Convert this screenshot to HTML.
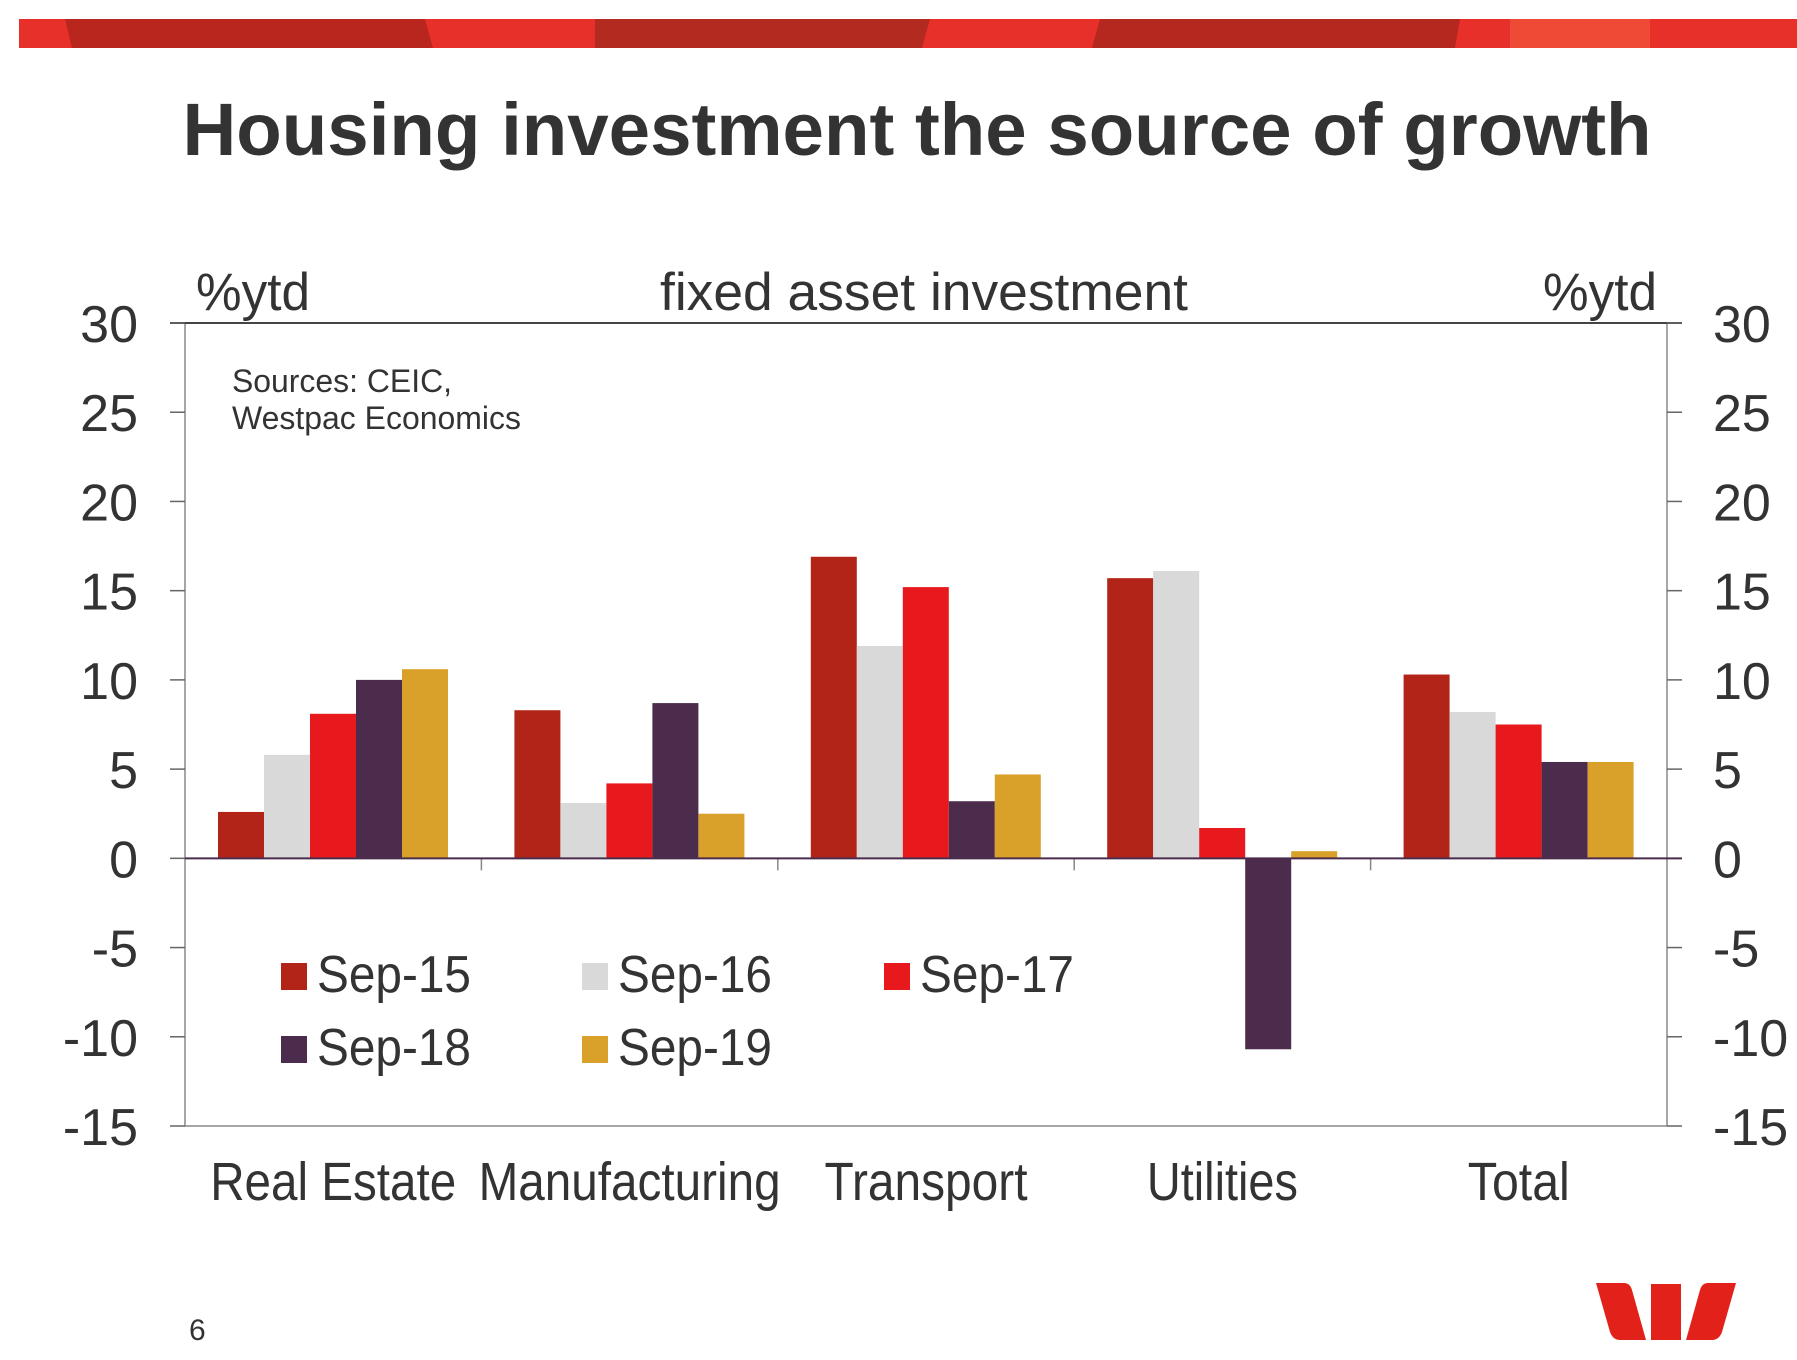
<!DOCTYPE html>
<html><head><meta charset="utf-8"><style>
html,body{margin:0;padding:0;background:#fff;}
svg{display:block;font-family:"Liberation Sans",Arial,sans-serif;}
</style></head><body>
<svg id="chart" width="1797" height="1360" viewBox="0 0 1797 1360" xmlns="http://www.w3.org/2000/svg">
<g>
<rect x="19" y="19" width="1778" height="29" fill="#e8302a"/>
<polygon points="65,19 425,19 433,48 72,48" fill="#b8261e"/>
<polygon points="595,19 930,19 922,48 595,48" fill="#b22a20"/>
<polygon points="1100,19 1460,19 1455,48 1092,48" fill="#b5281f"/>
<rect x="1510" y="19" width="140" height="29" fill="#ee4a36"/>
</g>
<text x="917" y="155" text-anchor="middle" font-size="74" font-weight="bold" fill="#333" textLength="1469" lengthAdjust="spacingAndGlyphs">Housing investment the source of growth</text>
<text x="196" y="310" font-size="53" fill="#333" textLength="114" lengthAdjust="spacingAndGlyphs">%ytd</text>
<text x="924" y="310" text-anchor="middle" font-size="53" fill="#333" textLength="528" lengthAdjust="spacingAndGlyphs">fixed asset investment</text>
<text x="1657" y="310" text-anchor="end" font-size="53" fill="#333" textLength="114" lengthAdjust="spacingAndGlyphs">%ytd</text>
<text x="232" y="392" font-size="32" fill="#333" textLength="220" lengthAdjust="spacingAndGlyphs">Sources: CEIC,</text>
<text x="232" y="429" font-size="32" fill="#333" textLength="289" lengthAdjust="spacingAndGlyphs">Westpac Economics</text>
<g id="plot"></g>
<g id="legend"></g>
<text x="189" y="1340" font-size="30" fill="#333">6</text>
<g fill="#e3211b">
<path d="M1596,1283 L1624,1283 Q1630,1283 1632,1290 L1646,1340 L1620,1340 Q1613,1340 1610,1332 Z"/>
<rect x="1651" y="1284" width="30" height="56"/>
<path d="M1736,1283 L1708,1283 Q1702,1283 1700,1290 L1686,1340 L1712,1340 Q1719,1340 1722,1332 Z"/>
</g>
</svg>
<script>
const categories = ["Real Estate","Manufacturing","Transport","Utilities","Total"];
const seriesNames = ["Sep-15","Sep-16","Sep-17","Sep-18","Sep-19"];
const sep15 = [2.6, 8.3, 16.9, 15.7, 10.3];
const sep16 = [5.8, 3.1, 11.9, 16.1, 8.2];
const sep17 = [8.1, 4.2, 15.2, 1.7, 7.5];
const sep18 = [10.0, 8.7, 3.2, -10.7, 5.4];
const sep19 = [10.6, 2.5, 4.7, 0.4, 5.4];
const yTicks = [30, 25, 20, 15, 10, 5, 0, -5, -10, -15];
const series = [sep15, sep16, sep17, sep18, sep19];
const colors = ["#b22417","#d9d9d9","#e8191c","#4b2c4d","#d9a12a"];
const NS = "http://www.w3.org/2000/svg";
const L = 185, R = 1667, T = 323, B = 1126, yMin = -15, yMax = 30;
const y = v => T + (yMax - v) / (yMax - yMin) * (B - T);
const catW = (R - L) / categories.length;
const x = i => L + i * catW;
const plot = document.getElementById('plot');
function mk(tag, attrs, parent) { const e = document.createElementNS(NS, tag); for (const k in attrs) e.setAttribute(k, attrs[k]); parent.appendChild(e); return e; }
// frame
const fr = mk('rect', {x:L, y:T, width:R-L, height:B-T, fill:'none', stroke:'#888', 'stroke-width':1.5}, plot);


mk('line', {x1:L-15, x2:R+15, y1:T, y2:T, stroke:'#444', 'stroke-width':2}, plot);
yTicks.forEach(t => {
  const yy = y(t);
  mk('line', {x1:L-15, x2:L, y1:yy, y2:yy, stroke:'#666', 'stroke-width':1.5}, plot);
  mk('line', {x1:R, x2:R+15, y1:yy, y2:yy, stroke:'#666', 'stroke-width':1.5}, plot);
  const lt = mk('text', {x:138, y:yy+19, 'text-anchor':'end', 'font-size':52, fill:'#333'}, plot);
  lt.textContent = t;
  
  
  const rt = mk('text', {x:1713, y:yy+19, 'font-size':52, fill:'#333'}, plot);
  rt.textContent = t;
  
  
});
const labelW = [246, 302, 203, 151, 102];
categories.forEach((c, i) => {
  series.forEach((s, j) => {
    const v = s[i];
    const bx = x(i) + 33 + j * 46;
    const r = mk('rect', {x:bx, y:Math.min(y(v), y(0)), width:46, height:Math.abs(y(v) - y(0)), fill:colors[j]}, plot);
    
    
  });
  if (i > 0) mk('line', {x1:x(i), x2:x(i), y1:y(0), y2:y(0)+12, stroke:'#888', 'stroke-width':1.5}, plot);
  const ct = mk('text', {x:x(i)+catW/2, y:1200, 'text-anchor':'middle', 'font-size':54, fill:'#333', textLength:labelW[i], lengthAdjust:'spacingAndGlyphs'}, plot);
  ct.textContent = c;
  
  
});
mk('line', {x1:L, x2:R+15, y1:y(0), y2:y(0), stroke:'#4b2c4d', 'stroke-width':2}, plot);
const legend = document.getElementById('legend');
const lx = [281, 582, 884, 281, 582], ly = [992, 992, 992, 1065, 1065];
seriesNames.forEach((n, j) => {
  const g = mk('g', {}, legend);
  
  
  mk('rect', {x:lx[j], y:ly[j]-29, width:26, height:27, fill:colors[j]}, g);
  const t = mk('text', {x:lx[j]+36, y:ly[j], 'font-size':52, fill:'#333', textLength:154, lengthAdjust:'spacingAndGlyphs'}, g);
  t.textContent = n;
});
</script>
</body></html>
